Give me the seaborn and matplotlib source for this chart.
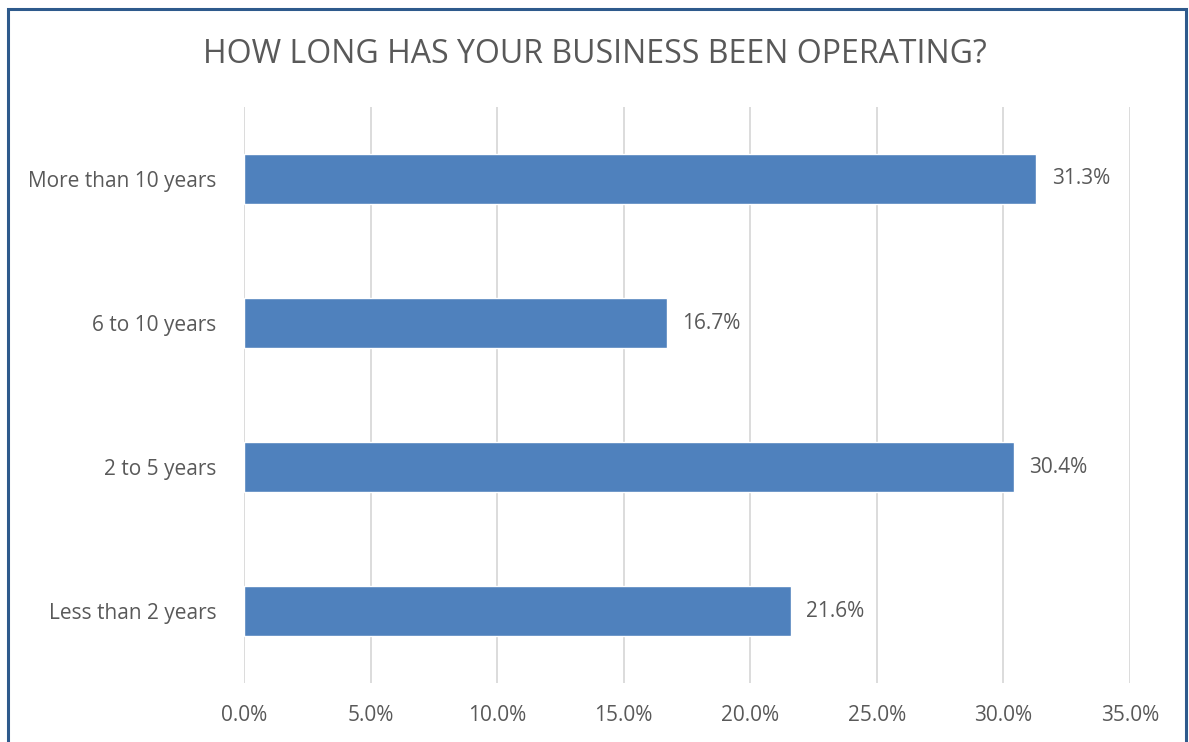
import matplotlib
matplotlib.use("Agg")
import matplotlib.pyplot as plt
import matplotlib.patches as mpatches
from matplotlib.ticker import FuncFormatter, MultipleLocator
import seaborn as sns
import pandas as pd

categories = ["More than 10 years", "6 to 10 years", "2 to 5 years", "Less than 2 years"]
shares = [31.3, 16.7, 30.4, 21.6]
title = "HOW LONG HAS YOUR BUSINESS BEEN OPERATING?"

df = pd.DataFrame({"category": categories, "share": shares})

sns.set_theme(style="white")
plt.rcParams["font.family"] = ["Open Sans", "DejaVu Sans"]

text_color = "#595959"
bar_color = "#4F81BD"
grid_color = "#D9D9D9"

fig = plt.figure(figsize=(11.89, 7.42), dpi=100)
ax = fig.add_axes([0.2052, 0.0795, 0.7452, 0.7763])

sns.barplot(data=df, x="share", y="category", order=categories,
            color=bar_color, saturation=1, width=0.35, ax=ax)

ax.set_xlim(0, 35)
ax.xaxis.set_major_locator(MultipleLocator(5))
ax.xaxis.set_major_formatter(FuncFormatter(lambda v, _: f"{v:.1f}%"))
ax.grid(axis="x", color=grid_color, linewidth=1.3)
ax.set_axisbelow(True)
for s in ax.spines.values():
    s.set_visible(False)
ax.set_xlabel("")
ax.set_ylabel("")
ax.tick_params(axis="x", length=0, pad=16, labelsize=15, labelcolor=text_color)
ax.tick_params(axis="y", length=0, pad=20, labelsize=15, labelcolor=text_color)

for i, v in enumerate(shares):
    ax.annotate(f"{v:.1f}%", xy=(v, i), xytext=(11, 0), textcoords="offset points",
                va="center", ha="left", fontsize=15, color=text_color)

fig.text(0.5, 0.926, title, ha="center", va="center", fontsize=23, color=text_color)

fig.patches.append(mpatches.Rectangle((8 / 1189, -0.05), 1178 / 1189, 1.05 - 9 / 742,
                                      transform=fig.transFigure, fill=False,
                                      edgecolor="#2E5A8C", linewidth=2.2))

fig.savefig("out.png", dpi=100)
